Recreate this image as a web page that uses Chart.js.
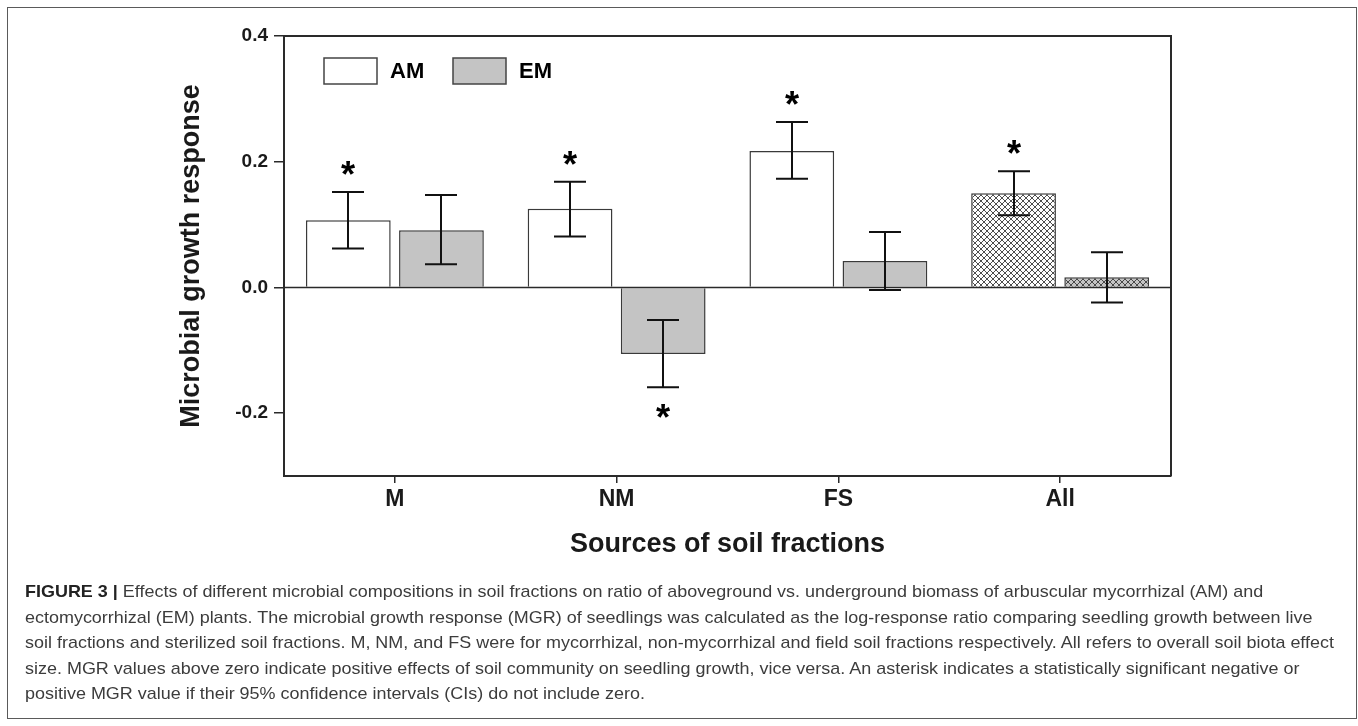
<!DOCTYPE html>
<html>
<head>
<meta charset="utf-8">
<script src="https://cdn.jsdelivr.net/npm/chart.js@4"></script>
<style>
html,body{margin:0;padding:0;background:#fff;width:1358px;height:726px;overflow:hidden;}
#frame{position:absolute;left:7px;top:7px;width:1350px;height:712px;border:1px solid #5a5a5a;box-sizing:border-box;}
#wrap{position:absolute;left:0;top:0;width:1358px;height:600px;}
#caption{position:absolute;left:25px;top:579px;font-family:"Liberation Sans",Arial,sans-serif;font-size:17px;line-height:25.5px;color:#3c3c3c;white-space:nowrap;}
#caption div{transform-origin:0 50%;}
#caption b{color:#222;}
</style>
</head>
<body>
<div id="frame"></div>
<div id="wrap"><canvas id="c" width="1358" height="600"></canvas></div>
<div id="caption">
<div><span><b>FIGURE 3 |</b> Effects of different microbial compositions in soil fractions on ratio of aboveground vs. underground biomass of arbuscular mycorrhizal (AM) and</span></div>
<div><span>ectomycorrhizal (EM) plants. The microbial growth response (MGR) of seedlings was calculated as the log-response ratio comparing seedling growth between live</span></div>
<div><span>soil fractions and sterilized soil fractions. M, NM, and FS were for mycorrhizal, non-mycorrhizal and field soil fractions respectively. All refers to overall soil biota effect</span></div>
<div><span>size. MGR values above zero indicate positive effects of soil community on seedling growth, vice versa. An asterisk indicates a statistically significant negative or</span></div>
<div><span>positive MGR value if their 95% confidence intervals (CIs) do not include zero.</span></div>
</div>
<script>
// ---- data ----
const categories = ['M', 'NM', 'FS', 'All'];
const seriesLabels = ['AM', 'EM'];
const amValues = [0.107, 0.125, 0.217, 0.150];
const amUpper  = [0.152, 0.168, 0.263, 0.185];
const amLower  = [0.062, 0.081, 0.173, 0.115];
const emValues = [0.091, -0.106, 0.042, 0.016];
const emUpper  = [0.147, -0.052, 0.088, 0.056];
const emLower  = [0.037, -0.159, -0.004, -0.024];
const amSignificant = [true, true, true, true];
const emSignificant = [false, true, false, false];
const yTickValues = [-0.2, 0.0, 0.2, 0.4];
const yMin = -0.3;
const yMax = 0.4;
const xTitle = 'Sources of soil fractions';
const yTitle = 'Microbial growth response';

// ---- styles ----
const FONT = "'Liberation Sans', Arial, sans-serif";
const INK = '#1a1a1a';
const AXIS = '#2a2a2a';
const GRAY = '#c4c4c4';

function hatch(bg) {
  const s = 6;
  const c = document.createElement('canvas');
  c.width = s; c.height = s;
  const x = c.getContext('2d');
  x.fillStyle = bg; x.fillRect(0, 0, s, s);
  x.strokeStyle = '#3a3a3a'; x.lineWidth = 0.9;
  x.beginPath();
  for (const k of [-s, 0, s]) {
    x.moveTo(k, 0); x.lineTo(k + s, s);
    x.moveTo(k + s, 0); x.lineTo(k, s);
  }
  x.stroke();
  return x.createPattern(c, 'repeat');
}

const amColors = categories.map((c, i) => i === categories.length - 1 ? hatch('#ffffff') : '#ffffff');
const emColors = categories.map((c, i) => i === categories.length - 1 ? hatch(GRAY) : GRAY);
const legendFills = ['#ffffff', GRAY];

const errors = [
  {upper: amUpper, lower: amLower, sig: amSignificant, values: amValues},
  {upper: emUpper, lower: emLower, sig: emSignificant, values: emValues}
];

const decorPlugin = {
  id: 'decor',
  afterDatasetsDraw(chart) {
    const {ctx, chartArea: a, scales: {y}} = chart;
    ctx.save();
    // zero line
    const y0 = Math.round(y.getPixelForValue(0)) + 0.5;
    ctx.strokeStyle = AXIS; ctx.lineWidth = 1.5;
    ctx.beginPath(); ctx.moveTo(a.left, y0); ctx.lineTo(a.right, y0); ctx.stroke();
    // top and right frame
    ctx.lineWidth = 2;
    ctx.beginPath();
    ctx.moveTo(a.left, a.top); ctx.lineTo(a.right, a.top); ctx.lineTo(a.right, a.bottom);
    ctx.stroke();
    // error bars + asterisks
    ctx.font = 'bold 40px ' + FONT;
    const m40 = ctx.measureText('*');
    const w40 = m40.actualBoundingBoxLeft + m40.actualBoundingBoxRight;
    const fs = 40 * 14.5 / w40;
    errors.forEach((e, di) => {
      const meta = chart.getDatasetMeta(di);
      meta.data.forEach((bar, i) => {
        const x = Math.round(bar.x);
        const yu = y.getPixelForValue(e.upper[i]);
        const yl = y.getPixelForValue(e.lower[i]);
        ctx.strokeStyle = '#111'; ctx.lineWidth = 2;
        ctx.beginPath();
        ctx.moveTo(x, yu); ctx.lineTo(x, yl);
        ctx.moveTo(x - 16, yu); ctx.lineTo(x + 16, yu);
        ctx.moveTo(x - 16, yl); ctx.lineTo(x + 16, yl);
        ctx.stroke();
        if (e.sig[i]) {
          ctx.font = 'bold ' + fs + 'px ' + FONT;
          const m = ctx.measureText('*');
          const cy = e.values[i] >= 0 ? yu - 24 : yl + 24;
          const base = cy + (m.actualBoundingBoxAscent - m.actualBoundingBoxDescent) / 2;
          ctx.fillStyle = '#000';
          ctx.textAlign = 'center';
          ctx.textBaseline = 'alphabetic';
          ctx.fillText('*', x, base);
        }
      });
    });
    // legend
    ctx.font = 'bold 22px ' + FONT;
    ctx.textBaseline = 'middle';
    ctx.textAlign = 'left';
    const lx = [a.left + 40, a.left + 169];
    chart.data.datasets.forEach((ds, di) => {
      const bx = lx[di], by = a.top + 22;
      ctx.fillStyle = legendFills[di];
      ctx.fillRect(bx, by, 53, 26);
      ctx.strokeStyle = '#444'; ctx.lineWidth = 1.5;
      ctx.strokeRect(bx, by, 53, 26);
      ctx.fillStyle = '#000';
      ctx.fillText(ds.label, bx + 66, by + 14);
    });
    ctx.restore();
  }
};

Chart.defaults.font.family = FONT;

new Chart(document.getElementById('c'), {
  type: 'bar',
  data: {
    labels: categories,
    datasets: [
      {label: seriesLabels[0], data: amValues, backgroundColor: amColors, borderColor: '#3a3a3a', borderWidth: 1.5},
      {label: seriesLabels[1], data: emValues, backgroundColor: emColors, borderColor: '#3a3a3a', borderWidth: 1.5}
    ]
  },
  options: {
    responsive: false,
    animation: false,
    devicePixelRatio: 1,
    categoryPercentage: 0.84,
    barPercentage: 0.91,
    layout: {padding: {left: 0, top: 36, right: 187, bottom: 38.8}},
    plugins: {legend: {display: false}, tooltip: {enabled: false}},
    scales: {
      x: {
        offset: true,
        grid: {display: true, offset: false, drawOnChartArea: false, drawTicks: true, tickLength: 7, color: AXIS, lineWidth: 1.5},
        border: {display: true, color: AXIS, width: 2},
        ticks: {color: INK, font: {size: 23, weight: 'bold'}, padding: 3, maxRotation: 0},
        title: {display: true, text: xTitle, color: INK, font: {size: 27, weight: 'bold'}, padding: {top: 0, bottom: 0}},
        afterFit(s) { s.height = 85.2; }
      },
      y: {
        min: yMin, max: yMax,
        afterBuildTicks(s) { s.ticks = yTickValues.map(v => ({value: v})); },
        grid: {display: true, drawOnChartArea: false, drawTicks: true, tickLength: 10, color: AXIS, lineWidth: 1.5},
        border: {display: true, color: AXIS, width: 2},
        ticks: {color: INK, font: {size: 19, weight: 'bold'}, padding: 6, callback: v => Number(v).toFixed(1)},
        title: {display: true, text: yTitle, color: INK, font: {size: 27, weight: 'bold'}, padding: {top: 175.8, bottom: 0}},
        afterFit(s) { s.width = 284; }
      }
    }
  },
  plugins: [decorPlugin]
});

// caption width fit
(function fitCaption() {
  const lines = document.querySelectorAll('#caption div');
  const ref = lines[2].querySelector('span').getBoundingClientRect().width;
  const k = 1309 / ref;
  lines.forEach(d => { d.style.transform = 'scaleX(' + k + ')'; });
})();
</script>
</body>
</html>
